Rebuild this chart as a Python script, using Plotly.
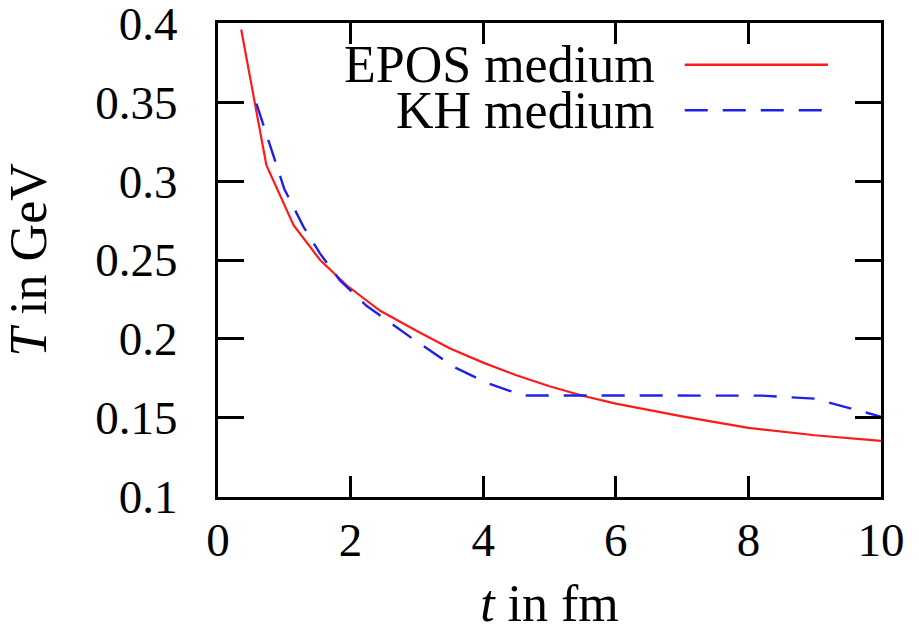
import plotly.graph_objects as go

# EPOS medium: temperature vs time
epos_t = [0.35, 0.73, 1.14, 1.54, 1.94, 2.44, 3.0, 3.5, 4.0, 4.5, 5.0, 5.5, 6.0, 7.0, 8.0, 9.0, 10.0]
epos_T = [0.396, 0.310, 0.272, 0.250, 0.234, 0.218, 0.205, 0.194, 0.185, 0.177, 0.170, 0.164, 0.159, 0.151, 0.1437, 0.139, 0.1355]

# KH medium: temperature vs time
kh_t = [0.58, 1.0, 1.29, 1.54, 1.84, 2.24, 2.92, 3.57, 4.07, 4.6, 8.2, 9.0, 10.0]
kh_T = [0.349, 0.295, 0.271, 0.254, 0.237, 0.221, 0.2006, 0.182, 0.172, 0.1642, 0.1641, 0.1622, 0.1508]

x_ticks = [0, 2, 4, 6, 8, 10]
y_ticks = [0.1, 0.15, 0.2, 0.25, 0.3, 0.35, 0.4]

FONT = "Liberation Serif"
FS_TICK = 47
FS_TEXT = 52

fig = go.Figure()
fig.add_trace(go.Scatter(x=epos_t, y=epos_T, mode="lines", name="EPOS medium",
                         line=dict(color="#ff1a1a", width=2.2)))
fig.add_trace(go.Scatter(x=kh_t, y=kh_T, mode="lines", name="KH medium",
                         line=dict(color="#2020ee", width=2.4, dash="23px,15px")))

axis_common = dict(
    showline=True, linecolor="black", linewidth=3, mirror="ticks",
    ticks="inside", tickcolor="black", tickwidth=3,
    showgrid=False, zeroline=False, automargin=False,
    ticklabeloverflow="allow",
    tickfont=dict(family=FONT, size=FS_TICK, color="black"),
)

fig.update_xaxes(range=[0, 10], tickvals=x_ticks, ticktext=[str(v) for v in x_ticks],
                 ticklen=21, ticklabelstandoff=0,
                 title=dict(text="<i>t</i> in fm", font=dict(family=FONT, size=FS_TEXT, color="black"),
                            standoff=32),
                 **axis_common)
fig.update_yaxes(range=[0.0999, 0.4001], tickvals=y_ticks, ticktext=[f"{v:g}" for v in y_ticks],
                 ticklen=26, ticklabelstandoff=28,
                 title=dict(text="<i>T</i> in GeV", font=dict(family=FONT, size=FS_TEXT, color="black"),
                            standoff=34),
                 **axis_common)

# Legend: right-aligned labels with line samples to their right
legend_items = [("EPOS medium", 0.912, dict(color="#ff1a1a", width=2.4)),
                ("KH medium", 0.816, dict(color="#2020ee", width=2.6, dash="23px,15px"))]
for label, yy, ln in legend_items:
    fig.add_annotation(xref="paper", yref="paper", x=0.662, y=yy, text=label,
                       showarrow=False, xanchor="right", yanchor="middle",
                       font=dict(family=FONT, size=FS_TEXT, color="black"))
    fig.add_shape(type="line", xref="paper", yref="paper", x0=0.704, x1=0.92,
                  y0=yy, y1=yy, line=ln)

fig.update_layout(
    width=919, height=632,
    margin=dict(l=218, r=38, t=23, b=135, autoexpand=False),
    paper_bgcolor="white", plot_bgcolor="white",
    showlegend=False,
)

fig.write_html("out.html")
